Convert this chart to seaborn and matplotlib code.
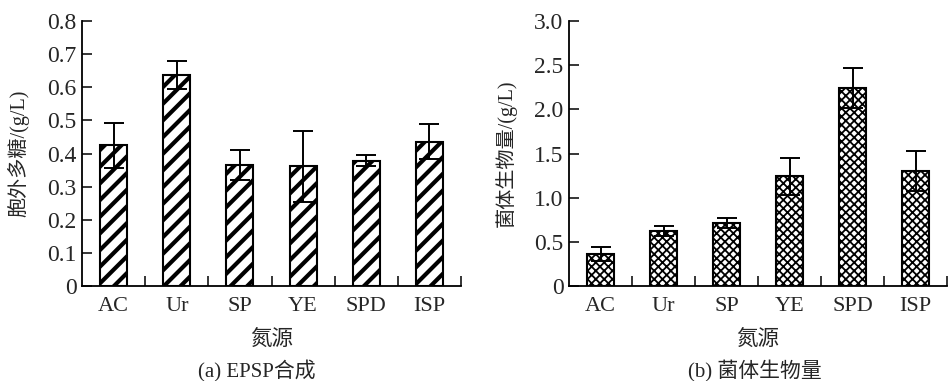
import matplotlib
matplotlib.use('Agg')
import matplotlib.pyplot as plt
import seaborn as sns
import pandas as pd
import numpy as np

# 数据
sources = ['AC', 'Ur', 'SP', 'YE', 'SPD', 'ISP']
epsp = [0.425, 0.637, 0.366, 0.361, 0.378, 0.436]
epsp_err = [0.068, 0.042, 0.046, 0.108, 0.017, 0.052]
biomass = [0.36, 0.62, 0.71, 1.24, 2.24, 1.30]
biomass_err = [0.08, 0.055, 0.055, 0.205, 0.225, 0.23]

sns.set_style('ticks')
plt.rcParams['font.family'] = ['Liberation Serif', 'Noto Sans CJK SC']
plt.rcParams['hatch.color'] = 'black'

fig = plt.figure(figsize=(9.48, 3.81), dpi=100)
ax1 = fig.add_axes([82/948, 1 - 286/381, 379/948, 265/381])
ax2 = fig.add_axes([569/948, 1 - 286/381, 378/948, 265/381])


def draw(ax, vals, errs, hatch, hlw, ymax, yticks, ylabels, ylabel):
    df = pd.DataFrame({'source': sources, 'value': vals})
    with plt.rc_context({'hatch.linewidth': hlw}):
        sns.barplot(data=df, x='source', y='value', color='white', saturation=1,
                    edgecolor='black', linewidth=1.5, width=0.43, hatch=hatch,
                    ax=ax)
    for p in ax.patches:
        if hasattr(p, 'set_hatch_linewidth'):
            p.set_hatch_linewidth(hlw)
    ax.errorbar(np.arange(len(sources)), vals, yerr=errs, fmt='none',
                ecolor='black', elinewidth=1.4, capsize=7, capthick=1.4)
    ax.set_xlim(-0.5, 5.5)
    ax.set_ylim(0, ymax)
    ax.set_yticks(yticks)
    ax.set_yticklabels(ylabels, fontsize=17)
    ax.set_xticks(np.arange(len(sources)))
    ax.set_xticklabels(sources, fontsize=16)
    ax.set_xticks(np.arange(len(sources)) + 0.5, minor=True)
    ax.tick_params(axis='x', which='major', length=0, pad=8)
    ax.tick_params(axis='x', which='minor', direction='in', length=7, width=1.3)
    ax.tick_params(axis='y', direction='in', length=7, width=1.3, pad=4)
    for s in ['top', 'right']:
        ax.spines[s].set_visible(False)
    for s in ['left', 'bottom']:
        ax.spines[s].set_linewidth(1.3)
        ax.spines[s].set_color('black')
    ax.set_xlabel('氮源', fontsize=15.5, labelpad=10)
    ax.set_ylabel(ylabel, fontsize=14.5)


draw(ax1, epsp, epsp_err, '//', 3.0, 0.8,
     [0, 0.1, 0.2, 0.3, 0.4, 0.5, 0.6, 0.7, 0.8],
     ['0', '0.1', '0.2', '0.3', '0.4', '0.5', '0.6', '0.7', '0.8'],
     '胞外多糖/(g/L)')
draw(ax2, biomass, biomass_err, 'xxxx', 1.3, 3.0,
     [0, 0.5, 1.0, 1.5, 2.0, 2.5, 3.0],
     ['0', '0.5', '1.0', '1.5', '2.0', '2.5', '3.0'],
     '菌体生物量/(g/L)')

ax1.yaxis.set_label_coords(-0.14, 0.5)
ax2.yaxis.set_label_coords(-0.138, 0.5)

fig.text(257/948, 1 - 371/381, '(a) EPSP合成', ha='center', va='center', fontsize=15)
fig.text(755/948, 1 - 371/381, '(b) 菌体生物量', ha='center', va='center', fontsize=15)

fig.savefig('out.png', dpi=100)
